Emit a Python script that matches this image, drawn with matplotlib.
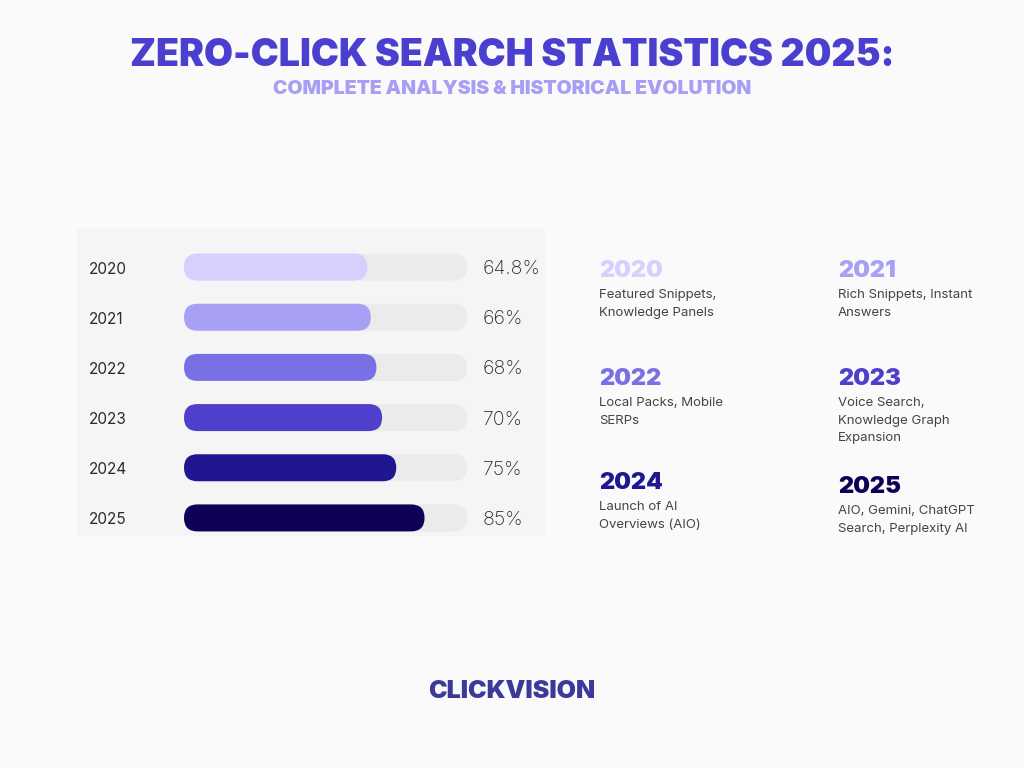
import numpy as np
import matplotlib.pyplot as plt
from matplotlib.patches import FancyBboxPatch, Rectangle

years = ['2020', '2021', '2022', '2023', '2024', '2025']
zero_click = [64.8, 66, 68, 70, 75, 85]
value_labels = ['64.8%', '66%', '68%', '70%', '75%', '85%']
bar_colors = ['#d5d0fe', '#a8a0f5', '#7a70e6', '#4f40cc', '#20168f', '#0f0057']
milestones = [
    'Featured Snippets,\nKnowledge Panels',
    'Rich Snippets, Instant\nAnswers',
    'Local Packs, Mobile\nSERPs',
    'Voice Search,\nKnowledge Graph\nExpansion',
    'Launch of AI\nOverviews (AIO)',
    'AIO, Gemini, ChatGPT\nSearch, Perplexity AI',
]

W, H = 1024, 768
fig = plt.figure(figsize=(W / 100, H / 100), dpi=100)
fig.patch.set_facecolor('#fafafa')

def fx(px):
    return px / W

def fy(py):
    return 1 - py / H

# light panel behind the bars
fig.patches.append(Rectangle((fx(77), fy(536)), fx(545) - fx(77), fy(228) - fy(536),
                             transform=fig.transFigure, facecolor='#f5f5f5',
                             edgecolor='none', zorder=-5))

# titles
fig.text(0.5, fy(56), 'ZERO-CLICK SEARCH STATISTICS 2025:', ha='center', va='center',
         fontsize=27, fontweight='black', family='Inter', color='#4b3fcf')
fig.text(0.5, fy(89), 'COMPLETE ANALYSIS & HISTORICAL EVOLUTION', ha='center', va='center',
         fontsize=14, fontweight='black', family='Inter', color='#a89ff5')

# bar axes: x in percent, one row per year
left, right, top, bottom = 184, 467, 242, 543
ax = fig.add_axes([fx(left), fy(bottom), fx(right) - fx(left), fy(top) - fy(bottom)])
ax.set_xlim(0, 100)
ax.set_ylim(len(years) - 0.5, -0.5)
ax.axis('off')
ax.set_zorder(2)

px_x = (right - left) / 100.0
px_y = (bottom - top) / len(years)
bar_h = 27 / px_y
radius = 13.5 / px_x
aspect = px_x / px_y
txt_shift = 2 / px_y

for i, (yr, v, lab, c) in enumerate(zip(years, zero_click, value_labels, bar_colors)):
    track = FancyBboxPatch((0, i - bar_h / 2), 100, bar_h,
                           boxstyle=f'round,pad=0,rounding_size={radius}',
                           mutation_aspect=aspect, facecolor='#ebebeb', edgecolor='none')
    ax.add_patch(track)
    bar = FancyBboxPatch((0, i - bar_h / 2), v, bar_h,
                         boxstyle=f'round,pad=0,rounding_size={radius}',
                         mutation_aspect=aspect, facecolor=c, edgecolor='none')
    ax.add_patch(bar)
    ax.text(-33.5, i + txt_shift, yr, ha='left', va='center', fontsize=11, family='Inter',
            color='#2a2a2a', clip_on=False)
    ax.text(105.5, i + txt_shift, lab, ha='left', va='center', fontsize=14, family='Inter',
            fontweight='light', color='#2a2a2a', clip_on=False)

# milestones grid on the right
col_x = [599, 838, 599, 838, 599, 838]
head_y = [271, 271, 379, 379, 483, 487]
for i, (yr, txt, c) in enumerate(zip(years, milestones, bar_colors)):
    fig.text(fx(col_x[i]), fy(head_y[i]), yr, ha='left', va='center',
             fontsize=17, fontweight='black', family='Inter', color=c)
    fig.text(fx(col_x[i]), fy(head_y[i] + 18), txt, ha='left', va='top',
             fontsize=9.5, family='Inter', color='#444444', linespacing=1.63)

# logo
fig.text(0.5, fy(691), 'CLICKVISION', ha='center', va='center',
         fontsize=18, fontweight='black', family='Inter', color='#3b3a9a')

fig.savefig('out.png', dpi=100, facecolor=fig.get_facecolor())
